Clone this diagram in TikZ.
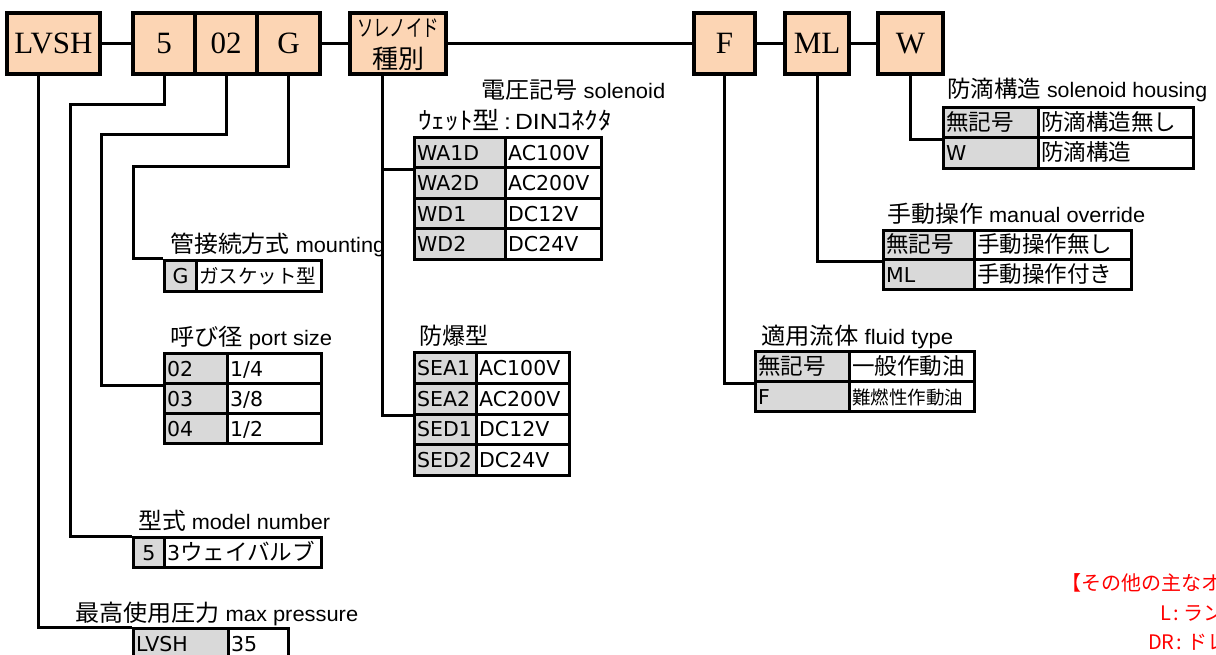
\documentclass[tikz,border=0pt]{standalone}
\usepackage{fontspec}
\usepackage{graphicx}
\setmainfont{Liberation Sans}
\newfontfamily\jp[Scale=1.1]{Noto Sans CJK JP}
\newfontfamily\jpn{Noto Sans CJK JP}
\newfontfamily\srf{Liberation Serif}
\newfontfamily\dv{DejaVu Sans}
\definecolor{peach}{RGB}{252,213,180}
\definecolor{keygray}{RGB}{217,217,217}
\newcommand\fitw[2]{\resizebox{#1}{\height}{#2}}
\newcommand\tcell[7]{%
  \node[cellbox, fill=#6, minimum width=#4pt, minimum height=#5pt] (#1) at (#2,#3) {};
  \node[ctext, anchor=base west] (#1t) at ([xshift=4pt,yshift=-7.5pt]#1.west) {#7};}
\newcommand\tcellc[7]{%
  \node[cellbox, fill=#6, minimum width=#4pt, minimum height=#5pt] (#1) at (#2,#3) {};
  \node[ctext, anchor=base] (#1t) at ([yshift=-7.5pt]#1.center) {#7};}
\begin{document}
\begin{tikzpicture}[x=1pt,y=-1pt,
  topbox/.style={draw, line width=3.4pt, fill=peach, minimum height=61pt, inner sep=0pt, font=\srf\fontsize{31}{31}\selectfont},
  conn/.style={line width=3pt},
  cellbox/.style={draw, line width=3pt, inner sep=0pt, anchor=north west},
  ctext/.style={inner sep=0pt, font=\dv\fontsize{20.5}{20.5}\selectfont},
  lab/.style={inner sep=0pt, anchor=base west, font=\fontsize{21}{21}\selectfont},
  redtext/.style={inner sep=0pt, anchor=base west, text=red, font=\jpn\fontsize{20}{20}\selectfont}]
\useasboundingbox (0,0) rectangle (1216,655);
\clip (0,0) rectangle (1216,655);
\fill[white] (0,0) rectangle (1216,655);

% top code boxes
\node[topbox, minimum width=93pt] (lvsh) at (53.5,43.5) {LVSH};
\node[topbox, minimum width=62pt] (b5) at (164,43.5) {5};
\node[topbox, minimum width=62pt] (b02) at (226,43.5) {02};
\node[topbox, minimum width=63pt] (bG) at (288.5,43.5) {G};
\node[topbox, minimum width=96pt] (sol) at (398,43.5) {};
\node[inner sep=0pt, font=\jpn\fontsize{23}{23}\selectfont] (solt1) at (398,27.5) {\fitw{82pt}{ソレノイド}};
\node[inner sep=0pt, font=\jpn\fontsize{26}{26}\selectfont] (solt2) at (398,59) {種別};
\node[topbox, minimum width=61pt] (bF) at (724.5,43.5) {F};
\node[topbox, minimum width=64pt] (bML) at (817,43.5) {ML};
\node[topbox, minimum width=65pt] (bW) at (910.5,43.5) {W};

% labels
\node[lab] (lv) at (481,99) {\fitw{184pt}{{\jp 電圧記号} solenoid}};
\node[lab, font=\fontsize{22}{22}\selectfont] (lwet) at (418,130) {\fitw{194pt}{{\jp ｳｪｯﾄ型}\,:\,DIN{\jp ｺﾈｸﾀ}}};
\node[lab] (lmt) at (170,252.5) {\fitw{215pt}{{\jp 管接続方式} mounting}};
\node[lab] (lps) at (170,345.5) {\fitw{162pt}{{\jp 呼び径} port size}};
\node[lab] (lex) at (419,344.5) {\fitw{69pt}{{\jp 防爆型}}};
\node[lab] (lmn) at (138,529.5) {\fitw{192pt}{{\jp 型式} model number}};
\node[lab] (lmp) at (75,621) {\fitw{283pt}{{\jp 最高使用圧力} max pressure}};
\node[lab] (lft) at (761,344.5) {\fitw{192pt}{{\jp 適用流体} fluid type}};
\node[lab] (lmo) at (887,222.5) {\fitw{258pt}{{\jp 手動操作} manual override}};
\node[lab] (lsh) at (947,97.5) {\fitw{260pt}{{\jp 防滴構造} solenoid housing}};

% wet-type solenoid table
\tcell{wa1k}{413}{136}{91}{30.5}{keygray}{WA1D}
\tcell{wa1v}{504}{136}{96}{30.5}{white}{AC100V}
\tcell{wa2k}{413}{166.5}{91}{30.5}{keygray}{WA2D}
\tcell{wa2v}{504}{166.5}{96}{30.5}{white}{AC200V}
\tcell{wa3k}{413}{197}{91}{30.5}{keygray}{WD1}
\tcell{wa3v}{504}{197}{96}{30.5}{white}{DC12V}
\tcell{wa4k}{413}{227.5}{91}{30.5}{keygray}{WD2}
\tcell{wa4v}{504}{227.5}{96}{30.5}{white}{DC24V}

% explosion-proof table
\tcell{sea1k}{413}{351}{62}{30.75}{keygray}{SEA1}
\tcell{sea1v}{475}{351}{93}{30.75}{white}{AC100V}
\tcell{sea2k}{413}{381.75}{62}{30.75}{keygray}{SEA2}
\tcell{sea2v}{475}{381.75}{93}{30.75}{white}{AC200V}
\tcell{sea3k}{413}{412.5}{62}{30.75}{keygray}{SED1}
\tcell{sea3v}{475}{412.5}{93}{30.75}{white}{DC12V}
\tcell{sea4k}{413}{443.25}{62}{30.75}{keygray}{SED2}
\tcell{sea4v}{475}{443.25}{93}{30.75}{white}{DC24V}

% mounting
\tcellc{gk}{163}{259}{32}{31}{keygray}{G}
\tcell{gv}{195}{259}{125}{31}{white}{{\jpn\fontsize{19.5}{19.5}\selectfont ガスケット型}}

% port size
\tcell{p1k}{163}{352}{63}{30}{keygray}{02}
\tcell{p1v}{226}{352}{94}{30}{white}{1/4}
\tcell{p2k}{163}{382}{63}{30}{keygray}{03}
\tcell{p2v}{226}{382}{94}{30}{white}{3/8}
\tcell{p3k}{163}{412}{63}{30}{keygray}{04}
\tcell{p3v}{226}{412}{94}{30}{white}{1/2}

% model number
\tcellc{modk}{132}{536}{31}{30}{keygray}{5}
\tcell{modv}{163}{536}{157}{30}{white}{3{\jp ウェイバルブ}}

% max pressure
\tcell{mpk}{132}{627}{95}{31}{keygray}{LVSH}
\tcell{mpv}{227}{627}{60}{31}{white}{35}

% fluid type
\tcell{fl1k}{754}{350}{94}{30}{keygray}{{\jp 無記号}}
\tcell{fl1v}{848}{350}{125}{30}{white}{{\jp 一般作動油}}
\tcell{fl2k}{754}{380}{94}{30}{keygray}{F}
\tcell{fl2v}{848}{380}{125}{30}{white}{{\jpn\fontsize{18.5}{18.5}\selectfont 難燃性作動油}}

% manual override
\tcell{mo1k}{882}{229}{91}{29.5}{keygray}{{\jp 無記号}}
\tcell{mo1v}{973}{229}{157}{29.5}{white}{{\jp 手動操作無し}}
\tcell{mo2k}{882}{258.5}{91}{29.5}{keygray}{ML}
\tcell{mo2v}{973}{258.5}{157}{29.5}{white}{{\jp 手動操作付き}}

% solenoid housing
\tcell{w1k}{942}{106}{95}{30.5}{keygray}{{\jp 無記号}}
\tcell{w1v}{1037}{106}{155}{30.5}{white}{{\jp 防滴構造無し}}
\tcell{w2k}{942}{136.5}{95}{30.5}{keygray}{W}
\tcell{w2v}{1037}{136.5}{155}{30.5}{white}{{\jp 防滴構造}}

% connectors
\coordinate (c5) at (70,105);
\coordinate (c02) at (101,135);
\coordinate (cG) at (133,167);
\draw[conn] (lvsh.east) -- (b5.west);
\draw[conn] (bG.east) -- (sol.west);
\draw[conn] (sol.east) -- (bF.west);
\draw[conn] (bF.east) -- (bML.west);
\draw[conn] (bML.east) -- (bW.west);
\draw[conn] ([xshift=-15.5pt]lvsh.south) |- (mpk.north west);
\draw[conn] (b5.south) |- (c5) |- (modk.north west);
\draw[conn] (b02.south) |- (c02) |- (p1k.south west);
\draw[conn] (bG.south) |- (cG) |- (gk.north west);
\draw[conn] ([xshift=-16pt]sol.south) |- (sea2k.south west);
\draw[conn] ([xshift=-16pt]sol.south |- wa1k.south west) -- (wa1k.south west);
\draw[conn] (bF.south) |- (fl1k.south west);
\draw[conn] (bML.south) |- (mo1k.south west);
\draw[conn] (bW.south) |- (w1k.south west);

% red notes (cut at the right edge, as in the reference)
\node[redtext] (r1) at (1061.5,590) {【その他の主なオ};
\node[redtext] (r2) at (1160,620) {L\hspace{2pt}:\hspace{5pt}ラン};
\node[redtext] (r3) at (1148,649) {DR\hspace{2pt}:\hspace{5pt}ドレ};
\end{tikzpicture}
\end{document}
